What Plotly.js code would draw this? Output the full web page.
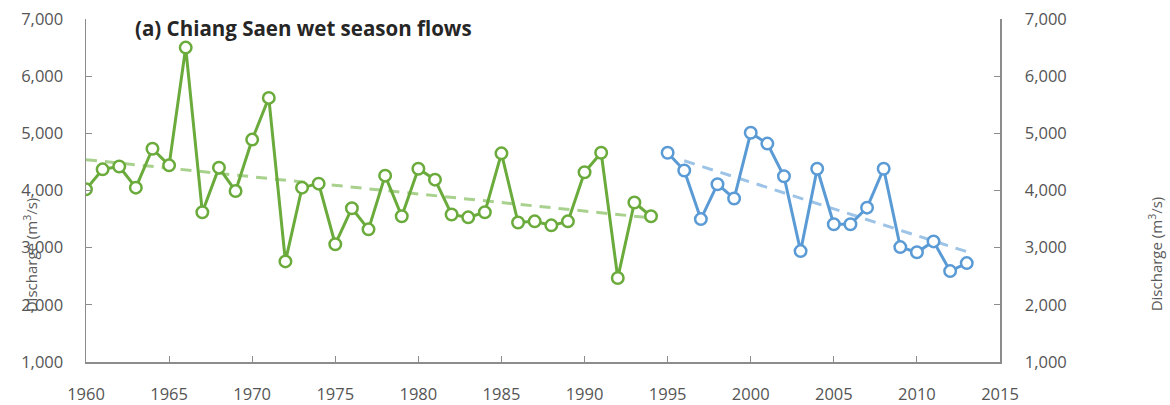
<!DOCTYPE html>
<html>
<head>
<meta charset="utf-8">
<script src="https://cdn.plot.ly/plotly-3.0.1.min.js"></script>
<style>html,body{margin:0;padding:0;background:#fff;}#chart{width:1170px;height:405px;}</style>
</head>
<body>
<div id="chart"></div>
<script>
var yearsGreen = [1960,1961,1962,1963,1964,1965,1966,1967,1968,1969,1970,1971,1972,1973,1974,1975,1976,1977,1978,1979,1980,1981,1982,1983,1984,1985,1986,1987,1988,1989,1990,1991,1992,1993,1994];
var flowsGreen = [4020,4370,4420,4050,4730,4440,6500,3620,4400,3990,4890,5620,2760,4050,4120,3060,3690,3320,4260,3550,4380,4190,3580,3530,3620,4650,3440,3460,3390,3460,4320,4660,2470,3790,3550];
var yearsBlue = [1995,1996,1997,1998,1999,2000,2001,2002,2003,2004,2005,2006,2007,2008,2009,2010,2011,2012,2013];
var flowsBlue = [4660,4350,3500,4110,3860,5010,4820,4250,2940,4380,3410,3410,3700,4380,3010,2920,3110,2590,2730];
var trendGreenX = [1960,1994];
var trendGreenY = [4540,3520];
var trendBlueX = [1996,2013];
var trendBlueY = [4520,2930];
var yTicks = [1000,2000,3000,4000,5000,6000,7000];
var yTickText = ['1,000','2,000','3,000','4,000','5,000','6,000','7,000'];
var xTicks = [1960,1965,1970,1975,1980,1985,1990,1995,2000,2005,2010,2015];

var green = '#6aab3c', blue = '#5b9bd5';
var traces = [
  {x: trendGreenX, y: trendGreenY, mode: 'lines', line: {color: '#a9d18e', width: 3, dash: '11px,8px'}, hoverinfo: 'skip'},
  {x: trendBlueX, y: trendBlueY, mode: 'lines', line: {color: '#9dc3e6', width: 3, dash: '11px,8px'}, hoverinfo: 'skip'},
  {x: yearsGreen, y: flowsGreen, mode: 'lines+markers', line: {color: green, width: 3},
   marker: {symbol: 'circle', size: 11.5, color: '#ffffff', line: {color: green, width: 2.5}}},
  {x: yearsBlue, y: flowsBlue, mode: 'lines+markers', line: {color: blue, width: 3},
   marker: {symbol: 'circle', size: 11.5, color: '#ffffff', line: {color: blue, width: 2.5}}},
  {x: [2015], y: [1000], yaxis: 'y2', mode: 'markers', marker: {opacity: 0}, hoverinfo: 'skip'}
];
var tickFont = {family: 'Open Sans, sans-serif', size: 16.5, color: '#555555'};
var layout = {
  width: 1170, height: 405,
  margin: {l: 86, r: 170, t: 19, b: 43},
  showlegend: false,
  paper_bgcolor: '#fff', plot_bgcolor: '#fff',
  xaxis: {range: [1960, 2015], tickvals: xTicks, showgrid: false, zeroline: false,
    showline: true, linecolor: '#8c8c8c', linewidth: 1.5, ticks: 'inside', ticklen: 6, tickcolor: '#8c8c8c',
    tickfont: tickFont, ticklabelstandoff: 17},
  yaxis: {range: [1000, 7000], tickvals: yTicks, ticktext: yTickText, showgrid: false, zeroline: false,
    showline: true, linecolor: '#8c8c8c', linewidth: 1.5, ticks: 'inside', ticklen: 6, tickcolor: '#8c8c8c',
    tickfont: tickFont, ticklabelstandoff: 18},
  yaxis2: {range: [1000, 7000], tickvals: yTicks, ticktext: yTickText, overlaying: 'y', side: 'right',
    showgrid: false, zeroline: false, showline: true, linecolor: '#8c8c8c', linewidth: 1.5,
    ticks: 'inside', ticklen: 6, tickcolor: '#8c8c8c', tickfont: tickFont, ticklabelstandoff: 20},
  annotations: [
    {text: '<b>(a) Chiang Saen wet season flows</b>', xref: 'paper', yref: 'paper',
     x: 0.051, y: 0.975, xanchor: 'left', yanchor: 'middle', showarrow: false,
     font: {family: 'Open Sans, sans-serif', size: 20.5, color: '#262626'}},
    {text: 'Discharge (m<sup>3</sup>/s)', xref: 'paper', yref: 'paper', x: -0.0613, y: 0.314,
     xanchor: 'center', yanchor: 'middle', textangle: -90, showarrow: false,
     font: {family: 'Open Sans, sans-serif', size: 15, color: '#595959'}},
    {text: 'Discharge (m<sup>3</sup>/s)', xref: 'paper', yref: 'paper', x: 1.1696, y: 0.314,
     xanchor: 'center', yanchor: 'middle', textangle: -90, showarrow: false,
     font: {family: 'Open Sans, sans-serif', size: 15, color: '#595959'}}
  ]
};
Plotly.newPlot('chart', traces, layout, {displayModeBar: false, staticPlot: true});
</script>
</body>
</html>
